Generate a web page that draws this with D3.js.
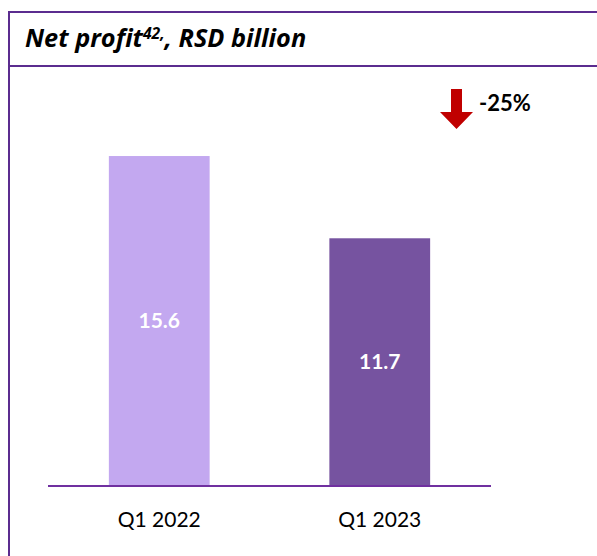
<!DOCTYPE html>
<html>
<head>
<meta charset="utf-8">
<script src="https://cdn.jsdelivr.net/npm/d3@7"></script>
<style>
  html, body { margin: 0; padding: 0; background: #fff; }
  svg { display: block; font-family: Lato, "Open Sans", sans-serif; }
</style>
</head>
<body>
<svg id="chart" width="597" height="556"></svg>
<script>
// chart values
const categories = ["Q1 2022", "Q1 2023"];
const netProfit = [15.6, 11.7];
const barColors = ["#c3a8f0", "#7653a0"];
const changeLabel = "-25%";

const svg = d3.select("#chart");
const frameColor = "#5b2c8f";

// frame: top rule, header rule and left rule
svg.append("line").attr("x1", 8).attr("x2", 597).attr("y1", 12).attr("y2", 12)
    .attr("stroke", frameColor).attr("stroke-width", 2);
svg.append("line").attr("x1", 8).attr("x2", 597).attr("y1", 66).attr("y2", 66)
    .attr("stroke", frameColor).attr("stroke-width", 2);
svg.append("line").attr("x1", 9).attr("x2", 9).attr("y1", 11).attr("y2", 556)
    .attr("stroke", frameColor).attr("stroke-width", 2);

// title - sized so it spans the same width as the original
const title = svg.append("text")
    .attr("x", 25).attr("y", 47)
    .attr("font-family", "'Open Sans', sans-serif")
    .attr("font-size", 22).attr("font-weight", 700).attr("font-style", "italic")
    .attr("fill", "#000");
title.append("tspan").text("Net profit");
const sup = title.append("tspan").attr("font-size", 14).attr("dy", -8).text("42,");
title.append("tspan").attr("dy", 8).text(", RSD billion");

const w = title.node().getComputedTextLength();
const fs = 22 * 282 / w;
title.attr("font-size", fs);
sup.attr("font-size", fs * 0.62);

// scales
const x = d3.scaleBand()
    .domain(categories)
    .range([48, 491])
    .paddingInner(0.543)
    .paddingOuter(0.276);

const y = d3.scaleLinear()
    .domain([0, 16])
    .range([485, 147.6]);

const data = categories.map((c, i) => ({ cat: c, value: netProfit[i], color: barColors[i] }));

svg.selectAll("rect.bar")
    .data(data)
    .join("rect")
    .attr("class", "bar")
    .attr("x", d => x(d.cat))
    .attr("width", x.bandwidth())
    .attr("y", d => y(d.value))
    .attr("height", d => y(0) - y(d.value))
    .attr("fill", d => d.color);

// value labels in the middle of each bar
svg.selectAll("text.val")
    .data(data)
    .join("text")
    .attr("class", "val")
    .attr("x", d => x(d.cat) + x.bandwidth() / 2)
    .attr("y", d => (y(d.value) + y(0)) / 2)
    .attr("dy", "0.35em")
    .attr("text-anchor", "middle")
    .attr("font-size", 21).attr("font-weight", 700)
    .attr("fill", "#fff")
    .text(d => d.value.toFixed(1));

// baseline
svg.append("line")
    .attr("x1", x.range()[0]).attr("x2", x.range()[1])
    .attr("y1", y(0) + 1).attr("y2", y(0) + 1)
    .attr("stroke", "#7030a0").attr("stroke-width", 2);

// category axis
const xAxis = svg.append("g")
    .attr("transform", `translate(0,${y(0) + 1})`)
    .call(d3.axisBottom(x).tickSize(0).tickPadding(26));
xAxis.select(".domain").remove();
xAxis.selectAll("text")
    .attr("font-family", "Lato, 'Open Sans', sans-serif")
    .attr("font-size", 21)
    .attr("fill", "#000");

// change indicator arrow
const arrow = d3.path();
arrow.moveTo(451, 89);
arrow.lineTo(462, 89);
arrow.lineTo(462, 112);
arrow.lineTo(473, 112);
arrow.lineTo(456.5, 129);
arrow.lineTo(440, 112);
arrow.lineTo(451, 112);
arrow.closePath();
svg.append("path").attr("d", arrow.toString()).attr("fill", "#c00000");

svg.append("text")
    .attr("x", 479).attr("y", 111)
    .attr("font-size", 22).attr("font-weight", 700)
    .attr("fill", "#000")
    .text(changeLabel);
</script>
</body>
</html>
